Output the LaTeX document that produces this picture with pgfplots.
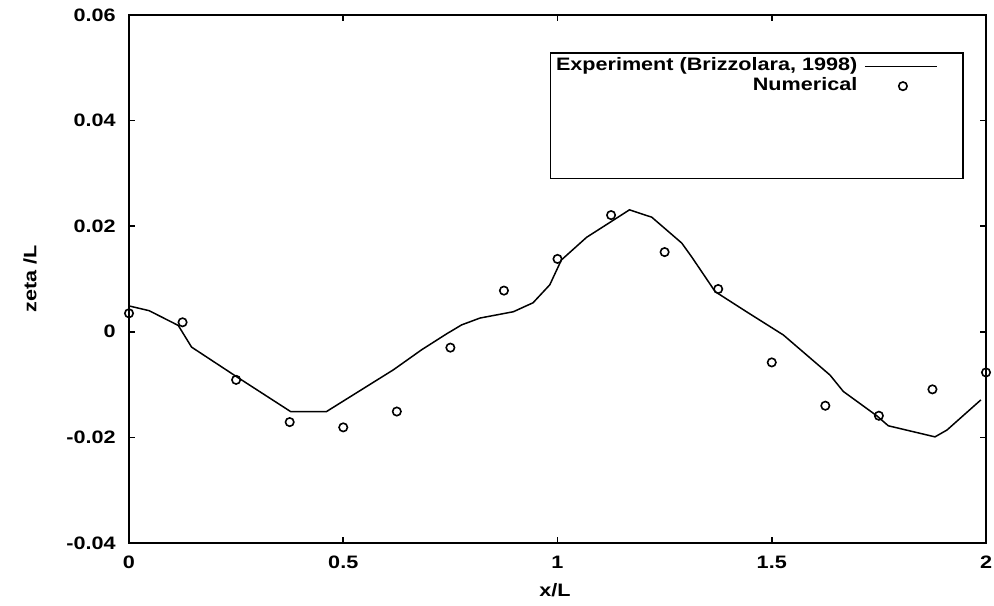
\documentclass[border=0pt]{standalone}
\usepackage{fontspec}
\setmainfont{Liberation Sans}[FakeStretch=1.2]
\usepackage{pgfplots}
\pgfplotsset{compat=1.18}
\begin{document}
\begin{tikzpicture}
\begin{axis}[
  scale only axis,
  width=428.5pt, height=264pt,
  at={(0,0)}, anchor=south west,
  xmin=0, xmax=2, ymin=-0.04, ymax=0.06,
  xtick={0,0.5,1,1.5,2},
  xticklabels={0,0.5,1,1.5,2},
  ytick={-0.04,-0.02,0,0.02,0.04,0.06},
  yticklabels={-0.04,-0.02,0,0.02,0.04,0.06},
  tick align=inside,
  major tick length=3pt,
  axis line style={line width=1pt},
  every tick/.style={black, line width=0.8pt},
  tick label style={font=\fontsize{9}{10}\selectfont\bfseries},
  yticklabel style={inner sep=0pt, xshift=-6.5pt, anchor=east},
  xticklabel style={inner sep=0pt, yshift=-6.5pt, anchor=north},
  xlabel={x/L}, ylabel={zeta /L},
  every axis x label/.style={at={(axis description cs:0.497,-0.089)}, anchor=center, font=\fontsize{9}{10}\selectfont\bfseries},
  every axis y label/.style={at={(axis description cs:-0.1155,0.5)}, rotate=90, anchor=center, font=\fontsize{9}{10}\selectfont\bfseries},
  legend style={at={(axis description cs:0.974,0.930)}, anchor=north east,
    draw=black, line width=0.8pt, inner xsep=2pt, inner ysep=2pt,
    font=\fontsize{9}{10}\selectfont\bfseries,
    row sep=0pt, column sep=0pt,
    nodes={text height=6.2pt, text depth=2pt, inner sep=0.8pt}},
  legend cell align=right,
  legend plot pos=right,
]
\addplot[black, line width=0.75pt, no markers,
  legend image code/.code={\path[draw=none] (0pt,0pt) -- (50pt,0pt);\draw[black, line width=0.75pt] (3pt,0pt) -- (39pt,0pt);}]
coordinates {
(0,0.0049) (0.047,0.0040) (0.115,0.0012) (0.146,-0.0029) (0.251,-0.0085)
(0.377,-0.0151) (0.461,-0.0151) (0.617,-0.0072) (0.683,-0.0034) (0.741,-0.0004)
(0.776,0.0013) (0.819,0.0026) (0.897,0.0038) (0.943,0.0055) (0.982,0.0089)
(1.009,0.0136) (1.068,0.0179) (1.122,0.0207) (1.168,0.0231) (1.220,0.0217)
(1.290,0.0168) (1.313,0.0142) (1.368,0.0076) (1.441,0.0038) (1.527,-0.0006)
(1.636,-0.0082) (1.667,-0.0113) (1.745,-0.0159) (1.772,-0.0178) (1.881,-0.0199)
(1.909,-0.0186) (1.988,-0.0129)
};
\addlegendentry{Experiment (Brizzolara, 1998)}
\addplot[black, only marks, mark=o, mark size=2.1pt, mark options={line width=0.8pt},
  legend image code/.code={\path[draw=none] (0pt,0pt) -- (50pt,0pt);\path[draw=none] plot[mark=o, mark size=2.1pt, mark options={draw=black, line width=0.8pt}] coordinates {(22pt,0pt)};}]
coordinates {
(0,0.0035) (0.125,0.0018) (0.25,-0.0091) (0.375,-0.0171) (0.5,-0.0181)
(0.625,-0.0151) (0.75,-0.0030) (0.875,0.0078) (1.0,0.0138) (1.125,0.0221)
(1.25,0.0151) (1.375,0.0081) (1.5,-0.0058) (1.625,-0.0140) (1.75,-0.0159)
(1.875,-0.0109) (2.0,-0.0077)
};
\addlegendentry{Numerical}
\addlegendimage{empty legend}\addlegendentry{}
\addlegendimage{empty legend}\addlegendentry{}
\addlegendimage{empty legend}\addlegendentry{}
\addlegendimage{empty legend}\addlegendentry{}
\end{axis}
\pgfresetboundingbox
\path (-64.5pt,-31pt) rectangle (432.5pt,271.5pt);
\end{tikzpicture}
\end{document}
